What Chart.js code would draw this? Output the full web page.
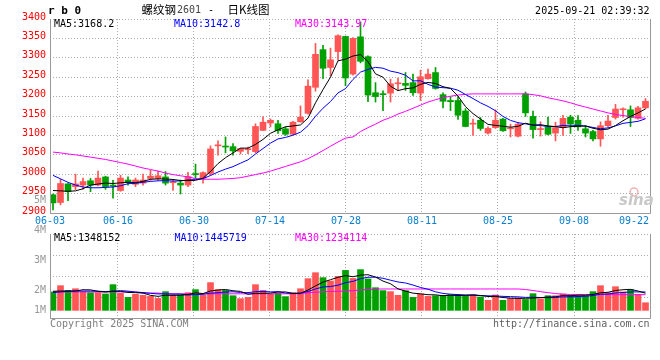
<!DOCTYPE html>
<html><head><meta charset="utf-8">
<script src="https://cdn.jsdelivr.net/npm/chart.js"></script>
<style>
html,body{margin:0;padding:0;background:#fff;}
#wrap{position:relative;width:660px;height:360px;overflow:hidden;background:#fff;}
#main{position:absolute;left:0;top:0;}
#vol{position:absolute;left:0;top:190px;}
</style></head><body>
<div id="wrap"><canvas id="main" width="660" height="232"></canvas><canvas id="vol" width="660" height="170"></canvas></div>
<script>
// ---------- DATA ----------
const dateTicks = ['06-03','06-16','06-30','07-14','07-28','08-11','08-25','09-08','09-22'];
const opens = [2947,2927,2975,2968,2972,2983,2972,2993,2972,2958, 2985,2974,2977,2989,2989,2993,2978,2977,2972,3001,
  2990,3002,3073,3072,3071,3059,3063,3058,3113,3132, 3130,3117,3103,3135,3157,3224,3321,3275,3316,3355,
  3258,3354,3303,3210,3206,3209,3233,3234,3236,3209, 3246,3262,3205,3190,3190,3163,3129,3139,3106,3120,
  3142,3117,3098,3207,3149,3115,3122,3106,3120,3147, 3139,3117,3110,3091,3125,3146,3166,3166,3144,3171];
const highs = [2949,2987,2976,3000,2990,2989,3008,2995,2984,2997, 2993,2990,3000,3010,3008,3007,2986,2985,3005,3026,
  3006,3073,3086,3096,3079,3067,3070,3130,3148,3142, 3139,3122,3136,3176,3243,3337,3332,3325,3359,3356,
  3352,3392,3305,3236,3215,3245,3248,3262,3258,3268, 3271,3275,3210,3200,3200,3169,3142,3146,3122,3166,
  3144,3129,3132,3212,3163,3135,3147,3134,3152,3152, 3151,3125,3113,3135,3152,3180,3171,3176,3175,3195];
const lows = [2908,2921,2932,2960,2961,2955,2970,2961,2938,2956, 2972,2968,2972,2984,2984,2972,2958,2949,2968,2989,
  2977,2997,3049,3055,3049,3052,3053,3055,3112,3122, 3105,3100,3102,3134,3155,3214,3246,3254,3294,3228,
  3255,3287,3187,3186,3164,3186,3216,3216,3203,3190, 3245,3219,3171,3164,3141,3122,3100,3113,3103,3118,
  3110,3096,3096,3149,3093,3098,3101,3086,3100,3105, 3113,3096,3086,3072,3122,3142,3147,3123,3142,3169];
const closes = [2926,2976,2955,2975,2981,2972,2990,2968,2969,2990, 2979,2985,2985,2995,2996,2977,2979,2972,2994,2999,
  3004,3065,3075,3070,3060,3066,3065,3123,3134,3139, 3112,3103,3134,3147,3227,3309,3273,3295,3357,3248,
  3350,3291,3204,3200,3205,3233,3235,3229,3210,3251, 3258,3221,3188,3187,3152,3123,3131,3118,3118,3139,
  3112,3119,3129,3158,3115,3117,3103,3120,3144,3129, 3122,3106,3091,3125,3137,3168,3168,3146,3171,3188];
const ma5 = [2958,2957,2956,2957,2962.6,2971.8,2974.6,2977.2,2976,2977.8, 2979.2,2978.2,2981.6,2986.8,2988,2987.6,2986.4,2983.8,2983.6,2984.2,
  2989.6,3006.8,3027.4,3042.6,3054.8,3067.2,3067.2,3076.8,3089.6,3105.4, 3114.6,3122.2,3124.4,3127,3144.6,3184,3218,3250.2,3292.2,3296.4,
  3304.6,3308.2,3290,3258.6,3250,3226.6,3215.4,3220.4,3222.4,3231.6, 3236.6,3233.8,3225.6,3221,3201.2,3174.2,3156.2,3142.2,3128.4,3125.8,
  3123.6,3121.2,3123.4,3131.4,3126.6,3127.6,3124.4,3122.6,3119.8,3122.6, 3123.6,3124.2,3118.4,3114.6,3116.2,3125.4,3137.8,3148.8,3158,3168.2];
const ma10 = [2997,2988,2979,2972,2967,2965,2965,2966,2967,2970.2, 2975.5,2976.4,2979.4,2981.4,2982.9,2983.4,2982.3,2982.7,2985.2,2986.1,
  2988.6,2996.6,3005.6,3013.1,3019.5,3028.4,3037,3052.1,3066.1,3080.1, 3090.9,3094.7,3100.6,3108.3,3125,3149.3,3170.1,3187.3,3209.6,3220.5,
  3244.3,3263.1,3270.1,3275.4,3273.2,3265.6,3261.8,3255.2,3240.5,3240.8, 3231.6,3224.6,3223,3221.7,3216.4,3205.4,3195,3183.9,3174.7,3163.5,
  3148.9,3138.7,3132.8,3129.9,3126.2,3125.6,3122.8,3123,3125.6,3124.6, 3125.6,3124.3,3120.5,3117.2,3119.4,3124.5,3131,3133.6,3136.3,3142.8];
const ma30 = [3057,3055,3052,3050,3047,3044,3041,3038,3034,3030, 3026,3021,3016,3012,3008,3003,2999,2996,2993,2989,
  2987,2987,2987,2988,2989,2991,2995,2999,3003,3008, 3014,3020,3026,3032,3040,3050,3061,3072,3083,3093,
  3096,3110,3120,3129,3139,3146,3155,3162,3170,3178, 3186,3192,3197,3201,3204,3206,3207,3207,3207,3207,
  3207,3207,3207,3207,3205,3202,3197,3193,3189,3184, 3178,3173,3168,3163,3158,3154,3151,3149,3146,3143.97];
// volume, in millions of lots
const volume = [1.45,1.94,1.57,1.70,1.45,1.39,1.39,1.29,2.02,1.34, 1.02,1.26,1.18,1.10,0.94,1.47,1.21,1.21,1.39,1.63,
  1.18,2.18,1.63,1.57,1.15,0.92,1.02,2.02,1.57,1.26, 1.34,1.08,1.39,1.70,2.49,2.96,2.57,2.31,2.67,3.14,
  2.51,3.20,2.47,1.78,1.55,1.47,1.18,1.55,1.02,1.29, 1.10,1.15,1.18,1.23,1.21,1.15,1.23,1.05,0.79,1.21,
  0.79,0.94,0.97,0.86,1.31,0.90,1.15,1.15,1.29,1.21, 1.13,1.15,1.47,1.94,1.39,1.86,1.45,1.63,1.26,0.60];
const volMa5 = [1.50,1.52,1.52,1.52,1.62,1.61,1.50,1.44,1.51,1.49, 1.41,1.39,1.36,1.18,1.10,1.19,1.18,1.19,1.24,1.38,
  1.32,1.52,1.60,1.64,1.54,1.49,1.26,1.34,1.34,1.36, 1.44,1.45,1.33,1.35,1.60,1.92,2.22,2.41,2.60,2.73,
  2.64,2.77,2.80,2.62,2.30,2.09,1.69,1.51,1.35,1.30, 1.23,1.22,1.15,1.19,1.17,1.18,1.20,1.17,1.09,1.09,
  1.01,0.96,0.94,0.95,0.97,1.00,1.04,1.07,1.16,1.14, 1.19,1.19,1.25,1.38,1.42,1.56,1.62,1.65,1.52,1.348];
const volMa10 = [1.40,1.45,1.50,1.52,1.52,1.52,1.50,1.48,1.50,1.55, 1.51,1.44,1.40,1.34,1.29,1.30,1.28,1.28,1.21,1.24,
  1.26,1.35,1.39,1.44,1.46,1.41,1.39,1.47,1.49,1.45, 1.47,1.36,1.33,1.35,1.48,1.68,1.84,1.87,1.98,2.17,
  2.28,2.49,2.60,2.61,2.52,2.37,2.23,2.15,1.99,1.80, 1.66,1.46,1.33,1.27,1.24,1.21,1.21,1.16,1.14,1.13,
  1.10,1.08,1.06,1.02,1.03,1.01,1.00,1.01,1.06,1.06, 1.09,1.11,1.16,1.27,1.28,1.37,1.40,1.45,1.45,1.446];
const volMa30 = [1.45,1.45,1.45,1.45,1.45,1.45,1.45,1.45,1.45,1.45, 1.45,1.45,1.36,1.36,1.36,1.30,1.30,1.30,1.30,1.30,
  1.30,1.30,1.30,1.30,1.30,1.30,1.30,1.30,1.30,1.30, 1.30,1.30,1.30,1.30,1.39,1.42,1.46,1.49,1.50,1.52,
  1.55,1.60,1.64,1.67,1.68,1.68,1.68,1.68,1.68,1.68, 1.68,1.68,1.68,1.68,1.68,1.68,1.68,1.68,1.68,1.68,
  1.68,1.68,1.68,1.64,1.56,1.47,1.39,1.32,1.27,1.25, 1.25,1.24,1.24,1.24,1.24,1.23,1.23,1.23,1.23,1.234];
const priceMaLabels = ['MA5:3168.2','MA10:3142.8','MA30:3143.97'];
const volMaLabels = ['MA5:1348152','MA10:1445719','MA30:1234114'];
const volTickLabels = ['5M','4M','3M','2M','1M'];

// ---------- STYLE / LAYOUT ----------
const UP='#ff5555', DOWN='#00a000', GRID='#aaaaaa', FRAME='#999999';
const MONO='"DejaVu Sans Mono", monospace';
const MA_COLORS=['#000000','#0000ff','#ff00ff'];
const XMIN=-0.4, XMAX=79.6, GRID_STEP=(76/600)*(XMAX-XMIN);
const gridVals=[]; for(let k=7;k>=1;k--) gridVals.push(XMAX-k*GRID_STEP);
const labelVals=[XMIN, ...gridVals, XMAX];
const volLabelY=[10, 40.3, 70.7, 100.7, 120.7];
const idx = closes.map((_,i)=>i);
const colors = closes.map((c,i)=> c>=opens[i]?UP:DOWN);

function txt(ctx,s,x,y,color,font,align){
  ctx.save(); ctx.font=font; ctx.fillStyle=color; ctx.textAlign=align||'left'; ctx.textBaseline='middle';
  ctx.fillText(s,x,y); ctx.restore();
}
function frame(ctx,a){
  ctx.save(); ctx.strokeStyle=FRAME; ctx.lineWidth=1; ctx.beginPath();
  ctx.moveTo(a.left+0.5,a.top); ctx.lineTo(a.left+0.5,a.bottom+0.5);
  ctx.lineTo(a.right+0.5,a.bottom+0.5); ctx.lineTo(a.right+0.5,a.top);
  ctx.stroke(); ctx.restore();
}
const xScale = h => ({type:'linear',min:XMIN,max:XMAX,offset:false,
  afterBuildTicks:s=>{s.ticks=gridVals.map(v=>({value:v}));},
  afterFit:s=>{s.height=h;},
  ticks:{display:false}, grid:{color:GRID,lineWidth:1,drawTicks:false,offset:false},
  border:{display:false,dash:[1,2]}});
const maSet = (arr,k) => ({type:'line',data:idx.map(i=>({x:i,y:arr[i]})),borderColor:MA_COLORS[k],
  borderWidth:1,pointRadius:0,tension:0,fill:false,order:0});
const baseOpts = pad => ({responsive:false,animation:false,devicePixelRatio:1,events:[],
  layout:{padding:{top:pad,right:10,left:0,bottom:0}},
  plugins:{legend:{display:false},tooltip:{enabled:false}}});

const mainDecor = {id:'mainDecor', afterDraw(chart){
  const ctx=chart.ctx, a=chart.chartArea, xs=chart.scales.x;
  frame(ctx,a);
  const f10='10px '+MONO;
  ctx.font=f10;
  labelVals.forEach((v,k)=>{
    const s=dateTicks[k]; const w=ctx.measureText(s).width;
    let x=xs.getPixelForValue(v)-w/2; x=Math.min(x,a.right-1-w);
    txt(ctx,s,x,221.5,'#0a7fd2',f10,'left');
  });
  txt(ctx,priceMaLabels[0],54,24,MA_COLORS[0],f10);
  txt(ctx,priceMaLabels[1],174,24,MA_COLORS[1],f10);
  txt(ctx,priceMaLabels[2],295,24,MA_COLORS[2],f10);
  // header
  txt(ctx,'r b 0',48,11.5,'#000','bold 11px '+MONO);
  const cjk='11.5px "Noto Sans CJK SC", sans-serif';
  txt(ctx,'螺纹钢',141.5,9.5,'#000',cjk);
  txt(ctx,'2601',177,10,'#444',f10);
  txt(ctx,'-',208,10,'#000',f10);
  txt(ctx,'日K线图',227.5,9.5,'#000',cjk);
  txt(ctx,'2025-09-21 02:39:32',649.5,11.5,'#000',f10,'right');
  // watermark
  ctx.save(); ctx.strokeStyle='#f2b0b0'; ctx.lineWidth=1.5; ctx.beginPath();
  ctx.arc(634,192,4,0,Math.PI*2); ctx.stroke(); ctx.restore();
  txt(ctx,'sina',619,201,'#c8c8c8','italic bold 15px "DejaVu Sans", sans-serif');
}};

const volDecor = {id:'volDecor', afterDraw(chart){
  const ctx=chart.ctx, a=chart.chartArea;
  frame(ctx,a);
  const f10='10px '+MONO;
  volTickLabels.forEach((s,k)=>txt(ctx,s,46,volLabelY[k],'#999',f10,'right'));
  txt(ctx,volMaLabels[0],54,48.7,MA_COLORS[0],f10);
  txt(ctx,volMaLabels[1],174.5,48.7,MA_COLORS[1],f10);
  txt(ctx,volMaLabels[2],295,48.7,MA_COLORS[2],f10);
  txt(ctx,'Copyright 2025 SINA.COM',50,134,'#808080',f10);
  txt(ctx,'http://finance.sina.com.cn',649.5,134,'#606060',f10,'right');
}};

new Chart(document.getElementById('main'), {
  type:'bar',
  data:{datasets:[
    maSet(ma5,0), maSet(ma10,1), maSet(ma30,2),
    {type:'bar',data:idx.map(i=>({x:i,y:[opens[i],closes[i]]})),backgroundColor:colors,borderWidth:0,
      barThickness:6,grouped:false,minBarLength:1,order:1},
    {type:'bar',data:idx.map(i=>({x:i,y:[lows[i],highs[i]]})),backgroundColor:colors,borderWidth:0,
      barThickness:1,grouped:false,order:2}
  ]},
  options:Object.assign(baseOpts(19),{scales:{
    x:xScale(19),
    y:{type:'linear',min:2900,max:3400,
      ticks:{stepSize:50,color:'#ff0000',font:{family:MONO,size:10},padding:4,labelOffset:-2,
        callback:v=>String(v)},
      grid:{color:GRID,lineWidth:1,drawTicks:false},border:{display:false,dash:[1,2]},
      afterFit:s=>{s.width=50;}}
  }}),
  plugins:[mainDecor]
});

new Chart(document.getElementById('vol'), {
  type:'bar',
  data:{datasets:[
    maSet(volMa5,0), maSet(volMa10,1), maSet(volMa30,2),
    {type:'bar',data:idx.map(i=>({x:i,y:volume[i]})),backgroundColor:colors,borderWidth:0,
      barThickness:6,grouped:false,order:1}
  ]},
  options:Object.assign(baseOpts(44),{scales:{
    x:xScale(42),
    y:{type:'linear',min:-0.6,max:6.0,
      afterBuildTicks:s=>{s.ticks=[0,1,2,3,4].map(k=>({value:s.min+k*(s.max-s.min)/4}));},
      ticks:{display:false},grid:{color:GRID,lineWidth:1,drawTicks:false},border:{display:false,dash:[1,2]},
      afterFit:s=>{s.width=50;}}
  }}),
  plugins:[volDecor]
});
</script>
</body></html>
